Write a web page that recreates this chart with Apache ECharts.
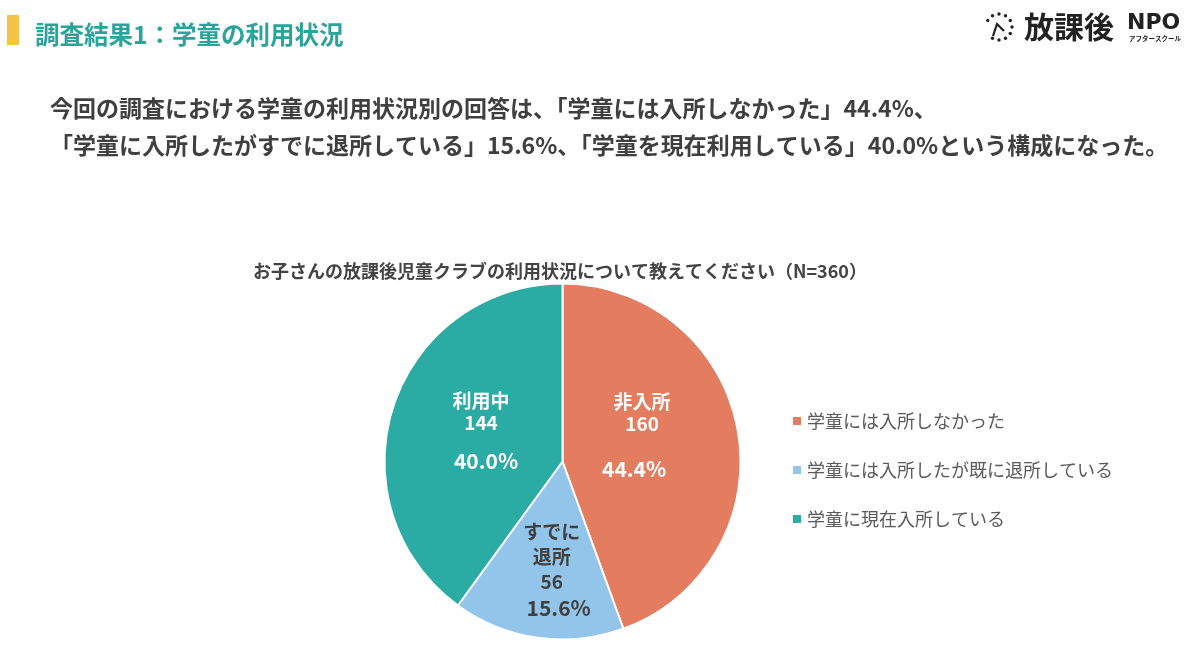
<!DOCTYPE html>
<html><head><meta charset="utf-8">
<script src="https://cdn.jsdelivr.net/npm/echarts@6/dist/echarts.min.js"></script>
<style>html,body{margin:0;padding:0;background:#fff}#c{width:1200px;height:670px}</style>
</head><body><div id="c"></div>
<script>
// ---- data ----
const categories = ['学童には入所しなかった', '学童には入所したが既に退所している', '学童に現在入所している'];
const shortLabels = ['非入所', 'すでに\n退所', '利用中'];
const counts = [160, 56, 144];
const percents = ['44.4%', '15.6%', '40.0%'];
const colors = ['#E47C5F', '#93C5EA', '#2AABA3'];

const pageTitle = '調査結果1：学童の利用状況';
const descLines = [
  '今回の調査における学童の利用状況別の回答は、「学童には入所しなかった」44.4%、',
  '「学童に入所したがすでに退所している」15.6%、「学童を現在利用している」40.0%という構成になった。'
];
const chartTitle = 'お子さんの放課後児童クラブの利用状況について教えてください（N=360）';

const FONT = '"Noto Sans CJK JP", "Noto Sans", sans-serif';

// label styling per slice
const labelStyles = [
  { color: '#fff', rich: { n: { fontSize: 19, lineHeight: 22, fontWeight: 'bold', color: '#fff', fontFamily: FONT }, p: { fontSize: 21, lineHeight: 68, fontWeight: 'bold', color: '#fff', padding: [0, 16, 0, 0], fontFamily: FONT } } },
  { color: '#404040', rich: { n: { fontSize: 19, lineHeight: 25, fontWeight: 'bold', color: '#404040', fontFamily: FONT }, p: { fontSize: 21, lineHeight: 27, fontWeight: 'bold', color: '#404040', padding: [0, 0, 0, 14], fontFamily: FONT } } },
  { color: '#fff', rich: { n: { fontSize: 19, lineHeight: 22, fontWeight: 'bold', color: '#fff', fontFamily: FONT }, p: { fontSize: 21, lineHeight: 54, fontWeight: 'bold', color: '#fff', padding: [0, 0, 0, 10], fontFamily: FONT } } }
];
const labelShift = [[-11, 1], [2, 18], [6, 6]];

const pieData = categories.map((name, i) => ({
  name: name,
  value: counts[i],
  itemStyle: { color: colors[i] },
  label: Object.assign({
    formatter: () => shortLabels[i].split('\n').map(s => '{n|' + s + '}').join('\n') + '\n{n|' + counts[i] + '}\n{p|' + percents[i] + '}'
  }, labelStyles[i])
}));

// clock logo dots
const clockDots = [];
for (let k = 0; k < 12; k++) {
  if (k === 8 || k === 9) continue;
  const a = k / 12 * Math.PI * 2;
  clockDots.push({ type: 'circle', shape: { cx: 999 + 13 * Math.sin(a), cy: 27 - 13 * Math.cos(a), r: 1.7 }, style: { fill: '#222' } });
}

const chart = echarts.init(document.getElementById('c'));
chart.setOption({
  backgroundColor: '#fff',
  animation: false,
  textStyle: { fontFamily: FONT },
  title: {
    text: chartTitle,
    left: 555, top: 257, textAlign: 'center',
    textStyle: { fontSize: 18, fontWeight: 'bold', color: '#444', fontFamily: FONT }
  },
  legend: {
    orient: 'vertical', left: 791, top: 411, padding: 0,
    icon: 'rect', itemWidth: 10, itemHeight: 10, itemGap: 29,
    data: categories,
    textStyle: { fontSize: 18, color: '#5a5a5a', lineHeight: 20, fontFamily: FONT }
  },
  graphic: [
    { type: 'rect', shape: { x: 7, y: 15, width: 12, height: 30 }, style: { fill: '#F5C24A' } },
    { type: 'text', x: 35, y: 35, style: { text: pageTitle, fill: '#2AA39B', font: 'bold 24.5px ' + FONT, textVerticalAlign: 'middle' } },
    { type: 'text', x: 50, y: 108, style: { text: descLines[0], fill: '#3f3f3f', font: 'bold 23px ' + FONT, textVerticalAlign: 'middle' } },
    { type: 'text', x: 50, y: 145, style: { text: descLines[1], fill: '#3f3f3f', font: 'bold 23px ' + FONT, textVerticalAlign: 'middle' } },
    ...clockDots,
    { type: 'polyline', shape: { points: [[993, 36], [997, 24], [1004, 31]] }, style: { stroke: '#222', lineWidth: 2.2, fill: null } },
    { type: 'text', x: 1024, y: 27, style: { text: '放課後', fill: '#222', font: 'bold 30px ' + FONT, textVerticalAlign: 'middle' } },
    { type: 'text', x: 1127, y: 23, style: { text: 'NPO', fill: '#222', font: 'bold 22px "DejaVu Sans", sans-serif', textVerticalAlign: 'middle' } },
    { type: 'text', x: 1129, y: 39, style: { text: 'アフタースクール', fill: '#222', font: 'bold 6.5px ' + FONT, textVerticalAlign: 'middle' } }
  ],
  series: [{
    type: 'pie',
    center: [562.5, 461.5],
    radius: [0, 178],
    startAngle: 90,
    clockwise: true,
    avoidLabelOverlap: false,
    itemStyle: { borderColor: '#fff', borderWidth: 2 },
    label: { show: true, position: 'inside', fontFamily: FONT },
    labelLine: { show: false },
    labelLayout: (params) => ({ dx: labelShift[params.dataIndex][0], dy: labelShift[params.dataIndex][1] }),
    emphasis: { disabled: true },
    data: pieData
  }]
});
</script>
</body></html>
